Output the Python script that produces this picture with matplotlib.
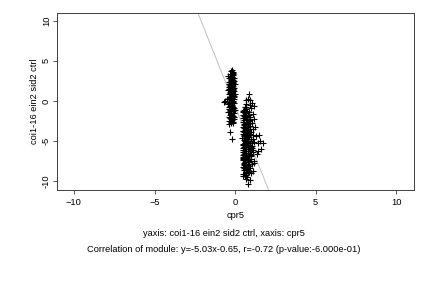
import matplotlib
matplotlib.use("Agg")
import matplotlib.pyplot as plt
import numpy as np

plt.rcParams['font.family'] = ['Liberation Sans', 'DejaVu Sans']

# cluster around x ~ -0.2
x1 = [-0.20, -0.25, -0.15, -0.30, -0.42, -0.10, -0.22, -0.05, -0.35, -0.18,
      -0.28, -0.08, -0.40, -0.15, -0.25, -0.02, -0.32, -0.12, -0.20, -0.38,
      -0.06, -0.27, -0.16, -0.44, -0.10, -0.30, -0.22, -0.03, -0.35, -0.14,
      -0.25, -0.08, -0.40, -0.18, -0.50, -0.28, -0.60, -0.70, -0.12, -0.35,
      -0.05, -0.45, -0.22, -0.30, -0.10, -0.38, -0.18, -0.26, -0.02, -0.33,
      -0.15, -0.42, -0.08, -0.24, -0.30, -0.12, -0.36, -0.20, -0.05, -0.28,
      -0.40, -0.16, -0.25, -0.35, -0.10, -0.30, -0.22,
      -0.18, -0.12, -0.22, -0.32, -0.20, -0.28, -0.14, -0.24, -0.09, -0.19,
      -0.36, -0.26, -0.13, -0.33, -0.06, -0.21, -0.29, -0.17, -0.11, -0.31,
      -0.23, -0.15, -0.34, -0.07, -0.27, -0.19, -0.39, -0.12, -0.25, -0.04,
      -0.30, -0.16, -0.21, -0.37, -0.09, -0.26, -0.14, -0.32, -0.18, -0.24]
y1 = [3.9, 3.7, 3.5, 3.3, 3.1, 3.2, 3.0, 2.9, 2.8, 2.7,
      2.6, 2.5, 2.4, 2.3, 2.2, 2.1, 2.0, 1.9, 1.8, 1.7,
      1.6, 1.5, 1.4, 1.3, 1.2, 1.1, 1.0, 0.9, 0.8, 0.7,
      0.6, 0.5, 0.4, 0.3, 0.2, 0.1, 0.0, -0.1, -0.1, -0.2,
      -0.3, -0.4, -0.5, -0.6, -0.7, -0.8, -0.9, -1.0, -1.1, -1.2,
      -1.3, -1.4, -1.5, -1.6, -1.8, -1.9, -2.0, -2.1, -2.2, -2.3,
      -2.5, -2.6, -2.8, -2.9, -2.7, -3.9, -4.8,
      2.0, 1.5, 1.3, 0.5, -0.2, -1.3, 0.0, 2.5, 0.2, -1.7,
      1.5, 3.1, 2.6, -0.4, -0.9, 0.8, 1.9, -2.4, 3.3, -2.1,
      2.8, 2.2, 1.0, 1.2, 0.4, -0.6, -1.0, 3.6, -1.5, 0.6,
      2.4, -0.3, 1.7, 2.1, -2.0, -0.8, 0.9, -1.1, 3.0, -2.6]

# cluster around x ~ 0.75
x2 = [0.85, 0.65, 0.80, 0.95, 1.05, 1.15, 0.70, 0.90, 0.60, 1.00,
      0.55, 0.75, 0.48, 0.88, 0.62, 1.10, 0.52, 0.80, 0.68, 0.95,
      0.46, 0.72, 1.15, 0.58, 0.85, 0.50, 0.65, 1.02, 0.78, 0.55,
      0.92, 1.25, 0.47, 0.70, 1.08, 0.60, 0.83, 0.52, 0.98, 0.66,
      1.30, 1.50, 0.49, 0.76, 1.12, 0.58, 0.88, 0.45, 1.00, 0.68,
      1.40, 1.55, 1.75, 0.54, 0.82, 1.20, 0.62, 0.95, 0.48, 0.73,
      1.05, 0.57, 0.86, 1.60, 1.45, 1.35, 0.50, 0.70, 1.10, 0.60,
      0.92, 0.46, 0.78, 0.55, 1.00, 0.66, 0.84, 0.52, 1.20, 1.15,
      0.74, 0.96, 0.58, 0.48, 0.88, 0.64, 1.05, 0.54, 0.80, 0.70,
      0.50, 0.92, 0.60, 1.10, 0.76, 0.56, 0.86, 0.66, 1.00, 0.52,
      0.75, 0.62, 0.90, 0.80, 0.70,
      0.55, 0.65, 0.72, 0.60, 0.80, 0.68, 0.58, 0.74, 0.90, 0.50,
      0.63, 0.85, 0.70, 0.95, 0.53, 0.77, 0.61, 0.87, 0.57, 0.82,
      0.66, 1.02, 0.73, 0.48, 0.69, 0.92, 0.59, 0.79, 1.08, 0.64,
      0.51, 0.67, 0.83, 0.56, 0.71, 0.97, 0.49, 0.62, 0.78, 0.54,
      0.89, 0.68, 0.47, 0.75, 1.03, 0.58, 0.65, 0.81, 0.52, 0.72,
      0.94, 0.60, 0.77, 0.50, 0.86, 0.63, 0.70, 1.12, 0.56, 0.84,
      0.66, 0.53, 0.79, 0.61, 0.91, 0.48, 0.74, 0.57, 0.69, 0.99]
y2 = [0.9, 0.1, 0.2, 0.1, -0.3, -0.6, -0.4, -0.5, -0.8, -0.9,
      -1.1, -1.2, -1.3, -1.4, -1.5, -1.6, -1.7, -1.8, -1.9, -2.0,
      -2.1, -2.2, -2.3, -2.4, -2.5, -2.6, -2.7, -2.8, -2.9, -3.0,
      -3.1, -3.2, -3.3, -3.4, -3.5, -3.6, -3.7, -3.8, -3.9, -4.0,
      -4.4, -4.2, -4.1, -4.2, -4.3, -4.4, -4.5, -4.6, -4.7, -4.8,
      -5.3, -5.0, -5.3, -4.9, -5.0, -5.1, -5.2, -5.3, -5.4, -5.5,
      -5.6, -5.7, -5.8, -6.0, -6.3, -6.6, -5.9, -6.0, -6.1, -6.2,
      -6.3, -6.4, -6.5, -6.6, -6.7, -6.8, -6.9, -7.0, -7.5, -7.7,
      -7.1, -7.2, -7.3, -7.4, -7.5, -7.6, -7.8, -7.9, -8.0, -8.1,
      -8.2, -8.3, -8.4, -8.7, -8.5, -8.6, -8.8, -8.9, -9.0, -9.1,
      -9.5, -9.3, -9.9, -10.4, -9.7,
      -1.9, -3.1, -4.5, -5.0, -6.2, -7.0, -8.0, -2.6, -3.5, -5.5,
      -6.5, -7.3, -1.5, -4.1, -3.4, -5.8, -2.0, -6.0, -7.7, -8.6,
      -9.0, -5.2, -3.0, -6.8, -5.4, -2.3, -4.6, -4.0, -6.4, -8.2,
      -1.4, -2.2, -3.3, -4.3, -5.1, -5.7, -6.1, -6.9, -7.4, -8.4,
      -1.7, -2.8, -3.8, -4.7, -5.9, -6.7, -7.9, -8.8, -9.4, -3.6,
      -2.4, -4.9, -6.3, -7.1, -8.1, -5.6, -9.2, -4.8, -3.2, -7.6,
      -1.0, -2.9, -4.4, -5.3, -6.6, -7.2, -8.5, -3.9, -0.7, -6.9]

slope, intercept = -5.03, -0.65
xticks = [-10, -5, 0, 5, 10]
yticks = [-10, -5, 0, 5, 10]

fig = plt.figure(figsize=(6, 4), dpi=72)
ax = fig.add_axes([57 / 432, 1 - 190 / 288, 357 / 432, 177 / 288])

xl = np.array([-11.1, 11.1])
ax.plot(xl, slope * xl + intercept, color='#c0c0c0', lw=1, zorder=1)
ax.plot(x1 + x2, y1 + y2, ls='none', marker='+', ms=5.5, mew=1.1, color='black', zorder=2)

ax.set_xlim(-11.05, 11.1)
ax.set_ylim(-11.1, 10.95)
ax.set_xticks(xticks)
ax.set_yticks(yticks)
ax.set_yticklabels([str(v) for v in yticks], rotation=90, va='center')
ax.tick_params(direction='out', length=4, width=0.8, labelsize=9.3, color='#333333', pad=4)
ax.tick_params(axis='y', pad=2)
for s in ax.spines.values():
    s.set_linewidth(1)
    s.set_color('#444444')

ax.set_xlabel('cpr5', fontsize=9.3, labelpad=4)
ax.set_ylabel('coi1-16 ein2 sid2 ctrl', fontsize=9.3, labelpad=3)

fig.text(224 / 432, 1 - 233 / 288, 'yaxis: coi1-16 ein2 sid2 ctrl, xaxis: cpr5',
         ha='center', va='center', fontsize=9.3)
fig.text(224 / 432, 1 - 250 / 288,
         'Correlation of module: y=-5.03x-0.65, r=-0.72 (p-value:-6.000e-01)',
         ha='center', va='center', fontsize=9.3)

fig.savefig('out.png', dpi=72)
